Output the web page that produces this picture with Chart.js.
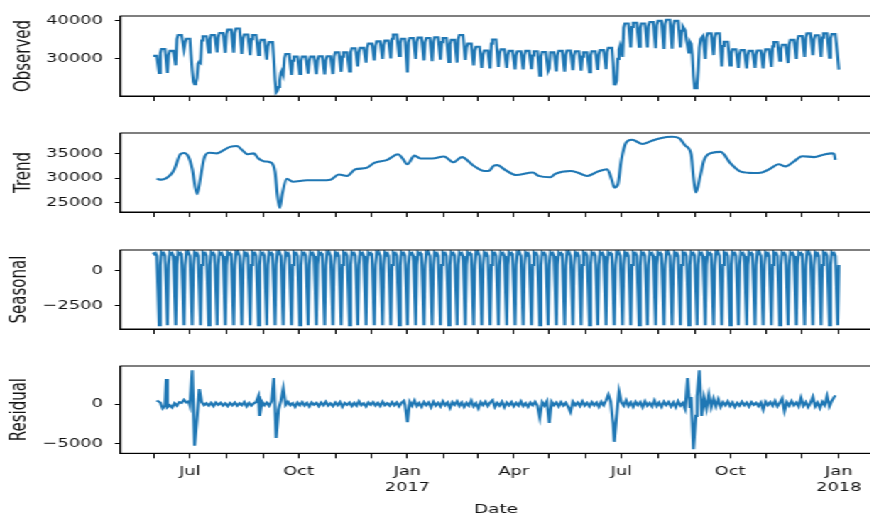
<!DOCTYPE html>
<html>
<head>
<meta charset="utf-8">
<script src="https://cdn.jsdelivr.net/npm/chart.js@4.4.0/dist/chart.umd.min.js"></script>
<style>
html,body{margin:0;padding:0;overflow:hidden;background:#fff;width:870px;height:520px;}
#wrap{position:absolute;left:0;top:0;width:620px;height:520px;transform:scaleX(1.42);transform-origin:0 0;}
canvas{position:absolute;left:0;}
</style>
</head>
<body>
<div id="wrap">
<canvas id="c0"></canvas>
<canvas id="c1"></canvas>
<canvas id="c2"></canvas>
<canvas id="c3"></canvas>
</div>
<script>
// ---------- DATA (x = days since 2016-01-01) ----------
const firstDay = 151;      // 2016-05-31
const lastDay = 731;       // 2018-01-01
const firstMonday = 150;   // 2016-05-30, start of week 0

// x-axis month ticks
const monthTickDays = [152,182,213,244,274,305,335,366,397,425,456,486,517,547,578,609,639,670,700,731];
const monthTickLabels = ['','Jul','','','Oct','','',['Jan','2017'],'','','Apr','','','Jul','','','Oct','','',['Jan','2018']];

// y-axis ticks
const observedTicks = [30000, 40000];
const trendTicks = [25000, 30000, 35000];
const seasonalTicks = [-2500, 0];
const residualTicks = [-5000, 0];

// Observed, per week: Monday value, Tue..Fri level, Sunday low
const obsWeekMon = [null,31500,31000,35200,34200,null,34850,35200,35700,36600,
  36900,35300,35200,33900,33300,null,30200,29500,29500,29500,
  29600,29600,30600,30600,31700,31800,32900,33500,33700,35300,
  34200,34400,34500,34400,34600,34400,33900,35200,32900,32100,
  31100,34000,31400,31000,30900,31000,30900,30700,27500,31000,
  31100,30900,30600,30900,31200,31800,null,38200,38400,38200,
  38600,38900,39200,38900,37400,null,null,35600,35600,33400,
  31400,31200,31000,31100,31400,33300,32600,33900,34900,35600,
  35100,35600,35400];
const obsWeekHigh = [30800,32600,32100,36300,35300,null,35950,36300,36800,37700,
  38000,36400,36300,35000,34400,null,31300,30600,30600,30600,
  30700,30700,31700,31700,32800,32900,34000,34600,34800,36400,
  35300,35500,35600,35500,35700,35500,35000,36300,34000,33200,
  32200,35100,32500,32100,32000,32100,32000,31800,31700,32100,
  32200,32000,31700,32000,32300,32900,null,39300,39500,39300,
  39700,40000,40300,40000,38500,null,36000,36700,36700,34500,
  32500,32300,32100,32200,32500,34400,33700,35000,36000,36700,
  36200,36700,36500];
const obsWeekLow = [26300,26300,28300,32500,null,null,31700,31700,31600,31600,
  31300,31000,31000,29800,null,null,25800,26000,26100,26000,
  25900,26000,26600,26700,28000,29000,29600,30000,30100,30800,
  26400,30000,29600,29400,29800,29200,29000,29700,28300,27600,
  27500,27900,27600,27200,27200,27300,25600,26800,26700,26600,
  27000,26900,26500,27100,27300,null,null,33000,33200,33000,
  32800,32600,32700,33000,null,null,30000,31000,28000,28300,
  27600,27500,27600,27500,27900,29500,28900,30000,30500,31000,
  30500,30300,30500];
// Observed daily values around holidays [day, value]
const obsHolidays = [
  [183,31000],[184,27000],[185,24000],[186,23360],[187,23600],[188,25000],[189,28800],[190,29300],[191,29000],
  [253,30000],[254,24500],[255,21200],[256,21600],[257,22600],[258,24200],[259,26400],[260,27000],[261,26000],
  [540,29000],[541,23300],[542,23280],[543,24200],[544,30000],[545,32500],[546,33500],[547,32000],[548,30500],
  [601,37500],[602,35000],[603,33500],[604,31700],[605,34500],[606,34000],[607,31000],[608,25500],[609,22300],
  [610,22300],[611,23000],[612,27000],[613,33000],[614,35200],
  [731,27160]
];

// Trend [day, value]
const trend = [[154,29880],[158,29700],[166,30760],[169,31900],[174,34880],[177,35120],[181,34290],[184,31900],
  [188,26750],[191,30180],[194,33990],[198,35180],[205,35050],[211,35760],[216,36360],[222,36540],[226,35760],
  [231,34880],[236,35050],[240,33990],[245,33410],[250,33230],[254,31340],[256,26640],[258,23950],[260,26640],
  [264,29880],[269,29290],[281,29580],[293,29580],[301,29700],[308,30760],[315,30460],[322,31820],[331,32050],
  [338,33110],[349,33710],[358,34880],[362,33990],[366,32830],[372,34590],[377,33990],[387,33990],[397,34420],
  [405,33230],[412,34290],[422,32530],[431,31470],[435,31470],[439,32530],[442,32650],[449,31640],[458,30640],
  [472,31170],[477,30460],[487,30180],[491,30880],[504,31470],[511,31060],[518,30460],[527,31340],[535,31820],
  [539,29580],[541,28110],[544,28690],[547,33710],[551,37240],[556,37830],[565,36950],[572,37530],[580,38130],
  [590,38420],[596,38130],[601,36640],[606,34880],[608,30180],[610,27100],[614,30760],[617,33710],[624,35180],
  [631,35350],[639,33110],[648,31340],[659,31060],[666,31170],[673,31940],[680,32830],[686,32400],[693,33410],
  [700,34470],[710,34290],[718,34770],[725,35050],[727,34880],[728,33710]];

// Seasonal: weekly pattern Mon..Sun
const seasonalWeek = [400, 1290, 1180, 1250, 1050, -1280, -3890];

// Residual [day, value]
const residual = [[154,450],[157,200],[159,-550],[161,-200],[162,3200],[163,-400],[165,-150],[167,-450],[169,100],[171,-200],
  [173,250],[175,150],[177,550],[179,200],[181,350],[182,-150],[184,4300],[186,-5300],[188,-1900],[190,1900],[192,250],
  [194,-150],[196,100],[198,-200],[200,150],[202,-250],[204,200],[206,-100],[208,150],[210,-200],[212,100],[214,-250],
  [216,150],[218,-150],[220,200],[222,-200],[224,100],[226,-150],[228,250],[230,-300],[232,150],[234,-200],[236,100],
  [238,250],[240,1000],[241,-1500],[243,300],[245,-150],[247,200],[249,-200],[251,350],[253,3300],[255,-4300],[257,-700],
  [259,400],[261,2000],[263,-100],[265,300],[267,-150],[269,100],[271,-350],[273,200],[275,-150],[277,250],[279,-200],
  [281,150],[283,-300],[285,200],[287,-100],[289,150],[291,-250],[293,200],[295,-150],[297,300],[299,-200],[301,100],
  [303,-250],[305,200],[307,-150],[309,250],[311,-350],[313,150],[315,-100],[317,200],[319,-250],[321,150],[323,-200],
  [325,350],[327,-150],[329,100],[331,-300],[333,200],[335,-100],[337,250],[339,-200],[341,150],[343,-250],[345,300],
  [347,-150],[349,100],[351,-200],[353,250],[355,-150],[357,200],[359,-300],[361,150],[363,400],[364,-100],[366,-2300],
  [368,300],[370,-200],[372,450],[374,-250],[376,150],[378,-350],[380,250],[382,-150],[384,200],[386,-400],[388,300],
  [390,-200],[392,150],[394,-300],[396,350],[398,-150],[400,200],[402,-500],[404,250],[406,-100],[408,350],[410,-250],
  [412,200],[414,-350],[416,150],[418,-200],[420,450],[422,-300],[424,100],[426,-550],[428,250],[430,-150],[432,300],
  [434,-250],[436,200],[438,500],[440,-350],[442,150],[444,-200],[446,300],[448,-400],[450,200],[452,-150],[454,250],
  [456,-300],[458,150],[460,-200],[462,350],[464,-250],[466,100],[468,-350],[470,200],[472,-150],[474,300],[476,-200],
  [478,-1700],[480,250],[482,-200],[484,350],[486,-2400],[488,300],[490,-150],[492,200],[494,-300],[496,250],[498,-200],
  [500,150],[502,-350],[504,-1000],[506,300],[508,-150],[510,200],[512,-250],[514,350],[516,-200],[518,150],[520,-300],
  [522,250],[524,-150],[526,200],[528,-350],[530,300],[532,-150],[534,450],[536,1200],[538,300],[540,-2500],[541,-4800],
  [543,-1500],[545,1600],[547,250],[549,-200],[551,500],[553,-250],[555,200],[557,-350],[559,300],[561,-150],[563,250],
  [565,-400],[567,350],[569,-200],[571,150],[573,-300],[575,450],[577,-250],[579,200],[581,-350],[583,300],[585,-150],
  [587,250],[589,-300],[591,200],[593,-400],[595,350],[597,-200],[599,150],[601,-600],[603,3300],[605,-500],[606,900],
  [608,-5750],[610,-1500],[611,1000],[613,4300],[615,-1500],[617,800],[619,-600],[621,1200],[623,-400],[625,700],
  [627,-300],[629,600],[631,-350],[633,250],[635,-150],[637,350],[639,-250],[641,200],[643,-350],[645,150],[647,-200],
  [649,300],[651,-150],[653,200],[655,-300],[657,250],[659,-100],[661,150],[663,-250],[665,200],[667,-700],[669,300],
  [671,-150],[673,250],[675,-200],[677,400],[679,-300],[681,150],[683,700],[685,-900],[687,250],[689,-200],[691,400],
  [693,-150],[695,200],[697,-300],[699,800],[701,-200],[703,250],[705,-400],[707,150],[709,900],[711,-300],[713,200],
  [715,-500],[717,300],[719,-150],[721,1000],[723,-300],[725,400],[728,1100]];

// ---------- BUILD SERIES ----------
function buildObserved() {
  const holidaySet = new Set(obsHolidays.map(p => p[0]));
  const pts = [];
  const add = (d, v) => {
    if (v === null || d < firstDay || d > lastDay || holidaySet.has(d)) return;
    pts.push({x: d, y: v});
  };
  for (let w = 0; w < obsWeekHigh.length; w++) {
    const mon = firstMonday + 7 * w;
    add(mon, obsWeekMon[w]);
    add(mon + 1, obsWeekHigh[w]);
    add(mon + 4, obsWeekHigh[w]);
    add(mon + 6, obsWeekLow[w]);
  }
  obsHolidays.forEach(p => pts.push({x: p[0], y: p[1]}));
  pts.sort((a, b) => a.x - b.x);
  return pts;
}
function buildSeasonal() {
  const pts = [];
  for (let d = firstDay; d <= lastDay; d++) pts.push({x: d, y: seasonalWeek[(d - firstMonday) % 7]});
  return pts;
}
const pairs = arr => arr.map(p => ({x: p[0], y: p[1]}));

// ---------- LAYOUT ----------
const S = 1.42;
const W = 620;
const AREA_LEFT = 120.5 / S;
const AREA_RIGHT = 871.6 / S;
const XMIN = 123.3, XMAX = 758.7;
const FONT = 'DejaVu Sans';
const TXT = '#111';
const fmt = v => (v < 0 ? '\u2212' + Math.abs(v) : String(v));

const framePlugin = {
  id: 'frame',
  afterDatasetsDraw(chart) {
    const {ctx, chartArea: a} = chart;
    ctx.save();
    ctx.strokeStyle = '#000';
    ctx.lineWidth = 1;
    ctx.strokeRect(a.left, a.top, a.right - a.left, a.bottom - a.top);
    ctx.restore();
  }
};

const panels = [
  {id: 'c0', top: 10, bottom: 102.3, ymin: 20229, ymax: 41282, ticks: observedTicks, label: 'Observed', tpad: 8.2, data: buildObserved(), smooth: false, showX: false},
  {id: 'c1', top: 127.3, bottom: 218.3, ymin: 23127, ymax: 39187, ticks: trendTicks, label: 'Trend', tpad: 8.2, data: pairs(trend), smooth: true, showX: false},
  {id: 'c2', top: 244.3, bottom: 336, ymin: -4159, ymax: 1474, ticks: seasonalTicks, label: 'Seasonal', tpad: 5.4, data: buildSeasonal(), smooth: false, showX: false},
  {id: 'c3', top: 360, bottom: 453.3, ymin: -6262, ymax: 4845, ticks: residualTicks, label: 'Residual', tpad: 5.4, data: pairs(residual), smooth: false, showX: true}
];

panels.forEach(p => {
  const canvas = document.getElementById(p.id);
  const cTop = Math.floor(p.top - 10);
  const padTop = p.top - cTop;
  const H = p.showX ? 520 - cTop : Math.ceil(p.bottom - cTop + 9);
  const xAxisH = H - (p.bottom - cTop);
  canvas.width = W; canvas.height = H;
  canvas.style.top = cTop + 'px';
  canvas.style.width = W + 'px';
  canvas.style.height = H + 'px';
  new Chart(canvas, {
    type: 'line',
    data: {datasets: [{
      data: p.data, borderColor: '#1f77b4', borderWidth: 2.1, pointRadius: 0, fill: false,
      tension: p.smooth ? 0.4 : 0, cubicInterpolationMode: p.smooth ? 'monotone' : 'default'
    }]},
    options: {
      responsive: false, animation: false, devicePixelRatio: 1, parsing: false,
      layout: {padding: {top: padTop, left: 0, right: W - AREA_RIGHT, bottom: 0}},
      plugins: {legend: {display: false}, tooltip: {enabled: false}},
      scales: {
        x: {
          type: 'linear', min: XMIN, max: XMAX,
          afterBuildTicks: s => { s.ticks = monthTickDays.map(v => ({value: v})); },
          afterFit: s => { s.height = xAxisH; },
          grid: {drawOnChartArea: false, drawTicks: true, tickLength: 5, tickColor: '#000', tickWidth: 1},
          border: {display: true, color: '#000', width: 1},
          ticks: {display: p.showX, autoSkip: false, maxRotation: 0, minRotation: 0, padding: 5.5, color: TXT,
            font: {family: FONT, size: 12.5, lineHeight: 1.3},
            callback: (v, i) => monthTickLabels[i]},
          title: {display: p.showX, text: 'Date', color: TXT, font: {family: FONT, size: 13}, padding: {top: 0, bottom: 2.2}}
        },
        y: {
          min: p.ymin, max: p.ymax,
          afterBuildTicks: s => { s.ticks = p.ticks.map(v => ({value: v})); },
          afterFit: s => { s.width = AREA_LEFT; },
          grid: {drawOnChartArea: false, drawTicks: true, tickLength: 4, tickColor: '#000', tickWidth: 1},
          border: {display: true, color: '#000', width: 1},
          ticks: {padding: 8.5, color: TXT, font: {family: FONT, size: 12.5}, callback: v => fmt(v)},
          title: {display: true, text: p.label, color: TXT, font: {family: FONT, size: 15}, padding: {top: p.tpad, bottom: 0}}
        }
      }
    },
    plugins: [framePlugin]
  });
});
</script>
</body>
</html>
